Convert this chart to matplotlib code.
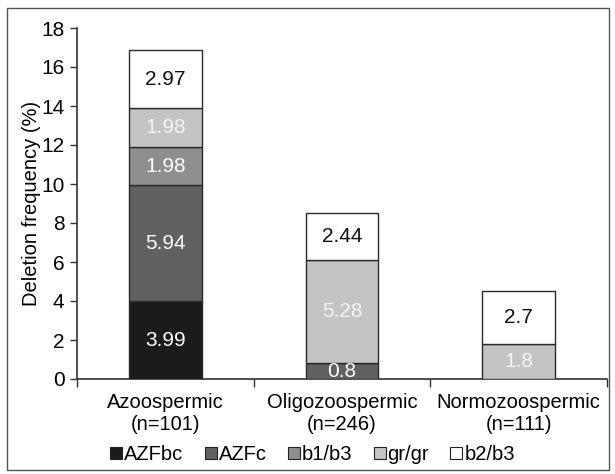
import matplotlib
matplotlib.use("Agg")
import matplotlib.pyplot as plt
from matplotlib.patches import Rectangle
from matplotlib.lines import Line2D

plt.rcParams['font.family'] = ['Liberation Sans', 'DejaVu Sans']

categories = ["Azoospermic\n(n=101)", "Oligozoospermic\n(n=246)", "Normozoospermic\n(n=111)"]
series_names = ["AZFbc", "AZFc", "b1/b3", "gr/gr", "b2/b3"]
azfbc = [3.99, 0, 0]
azfc = [5.94, 0.8, 0]
b1b3 = [1.98, 0, 0]
grgr = [1.98, 5.28, 1.8]
b2b3 = [2.97, 2.44, 2.7]
series = [azfbc, azfc, b1b3, grgr, b2b3]
colors = ["#1b1b1b", "#616161", "#8e8e8e", "#c4c4c4", "#ffffff"]
text_colors = ["white", "white", "white", "#f4f4f4", "#111111"]
yticks = [0, 2, 4, 6, 8, 10, 12, 14, 16, 18]

FS = 14.5

fig = plt.figure(figsize=(6.15, 4.74), dpi=100)
fig.patches.append(Rectangle((7/615, 1-470/474), 602/615, 462/474, transform=fig.transFigure,
                             fill=False, edgecolor="#555555", linewidth=1.0))
ax = fig.add_axes([77/615, 1-379/474, 530/615, 351/474])

x = list(range(len(categories)))
bottom = [0.0] * len(categories)
for vals, col, tc in zip(series, colors, text_colors):
    ax.bar(x, vals, width=0.41, bottom=bottom, color=col, edgecolor="#2a2a2a", linewidth=1.0, zorder=3)
    for xi, v, b in zip(x, vals, bottom):
        if v > 0:
            ax.text(xi, b + v / 2, f"{v:g}", ha="center", va="center", color=tc, fontsize=15, zorder=4)
    bottom = [b + v for b, v in zip(bottom, vals)]

ax.set_xlim(-0.5, 2.5)
ax.set_ylim(0, 18)
ax.set_yticks(yticks)
ax.set_xticks(x)
ax.set_xticklabels(categories, fontsize=FS, linespacing=1.2)
ax.set_xticks([-0.5, 0.5, 1.5, 2.5], minor=True)
ax.tick_params(axis="x", which="major", length=0, pad=10)
ax.tick_params(axis="x", which="minor", length=6, width=1, color="#333333", direction="out")
ax.tick_params(axis="y", length=5, width=1, color="#333333", labelsize=15, direction="out", pad=4)
for s in ["top", "right"]:
    ax.spines[s].set_visible(False)
for s in ["left", "bottom"]:
    ax.spines[s].set_color("#333333")
    ax.spines[s].set_linewidth(1.2)
ax.set_ylabel("Deletion frequency (%)", fontsize=FS, labelpad=0)

handles = [Line2D([], [], marker="s", linestyle="none", markersize=9, markerfacecolor=c,
                  markeredgecolor="#222222", markeredgewidth=0.8) for c in colors]
fig.legend(handles, series_names, loc="center", bbox_to_anchor=(312/615, 1-455/474), ncol=5,
           frameon=False, fontsize=FS, handlelength=0.7, handletextpad=0.05, columnspacing=1.0)

fig.savefig("out.png", dpi=100)
